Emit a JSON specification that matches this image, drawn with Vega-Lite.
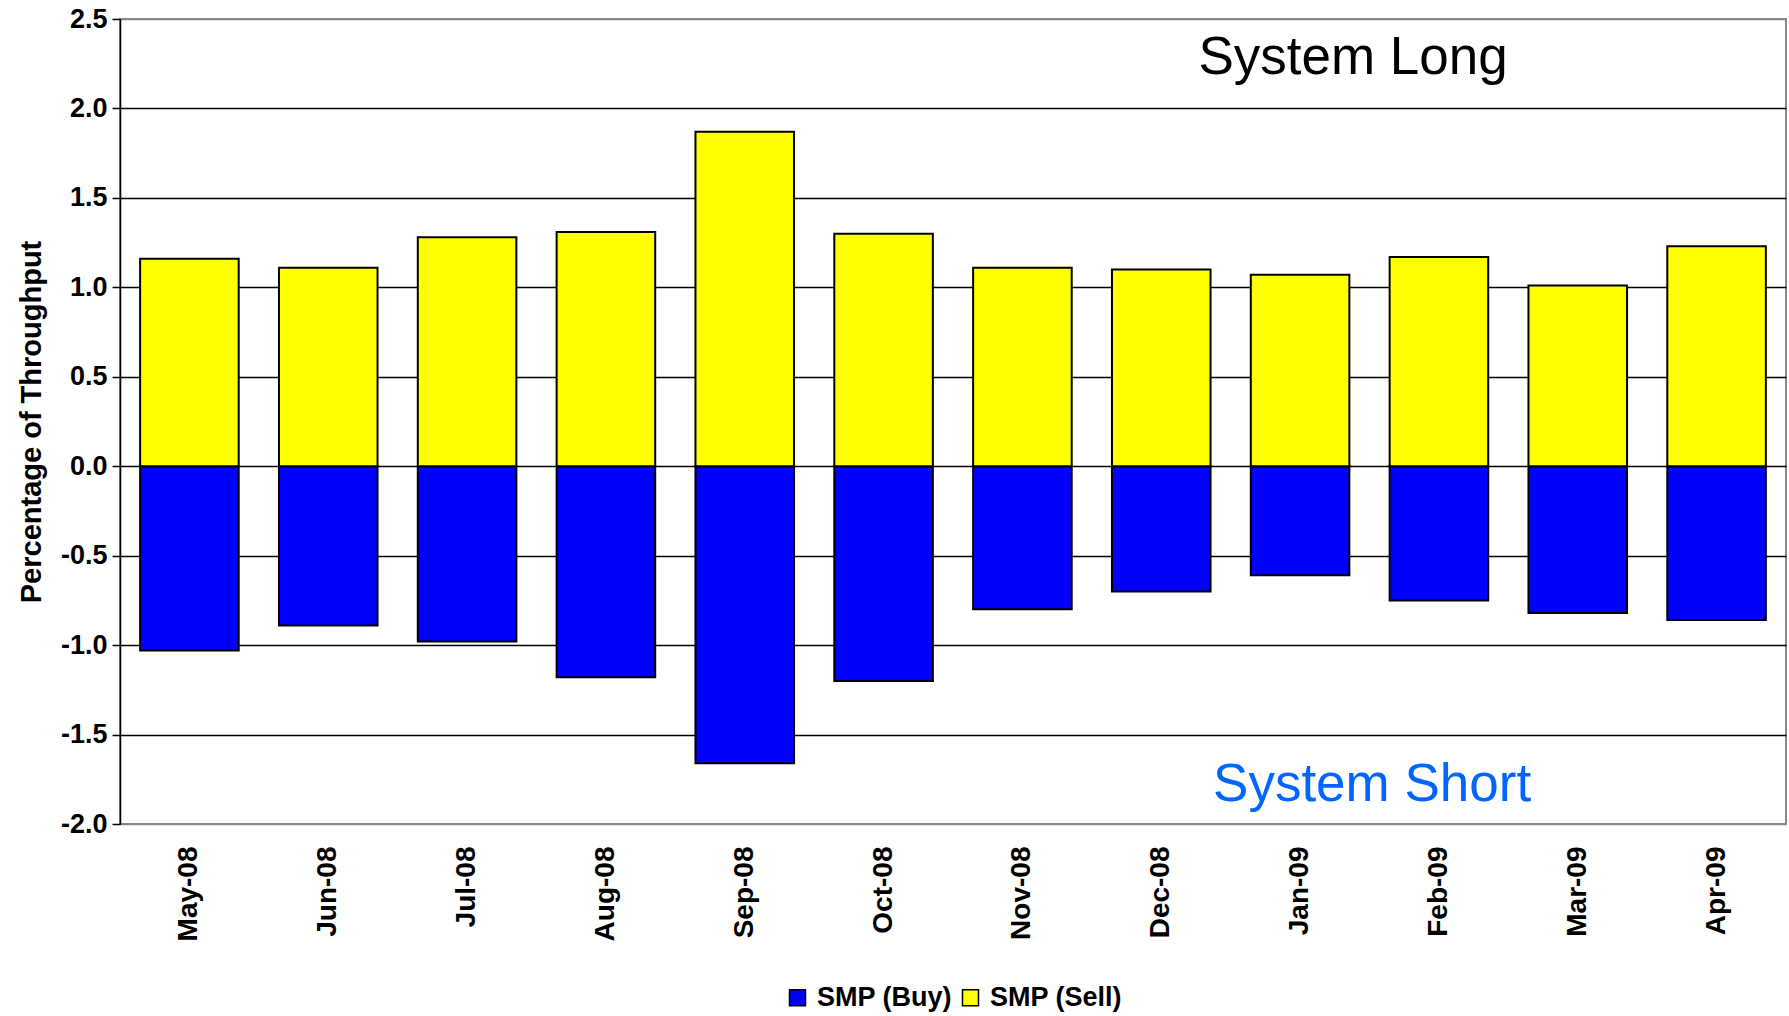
{
  "$schema": "https://vega.github.io/schema/vega-lite/v6.json",
  "width": 1666,
  "height": 805,
  "autosize": {"type": "none"},
  "padding": {"left": 120, "top": 19, "right": 3, "bottom": 192},
  "background": "white",
  "config": {
    "font": "Liberation Sans",
    "view": {"stroke": "#888888", "strokeWidth": 2}
  },
  "datasets": {
    "smp": [
      {"month": "May-08", "series": "SMP (Buy)", "value": -1.03},
      {"month": "May-08", "series": "SMP (Sell)", "value": 1.16},
      {"month": "Jun-08", "series": "SMP (Buy)", "value": -0.89},
      {"month": "Jun-08", "series": "SMP (Sell)", "value": 1.11},
      {"month": "Jul-08", "series": "SMP (Buy)", "value": -0.98},
      {"month": "Jul-08", "series": "SMP (Sell)", "value": 1.28},
      {"month": "Aug-08", "series": "SMP (Buy)", "value": -1.18},
      {"month": "Aug-08", "series": "SMP (Sell)", "value": 1.31},
      {"month": "Sep-08", "series": "SMP (Buy)", "value": -1.66},
      {"month": "Sep-08", "series": "SMP (Sell)", "value": 1.87},
      {"month": "Oct-08", "series": "SMP (Buy)", "value": -1.2},
      {"month": "Oct-08", "series": "SMP (Sell)", "value": 1.3},
      {"month": "Nov-08", "series": "SMP (Buy)", "value": -0.8},
      {"month": "Nov-08", "series": "SMP (Sell)", "value": 1.11},
      {"month": "Dec-08", "series": "SMP (Buy)", "value": -0.7},
      {"month": "Dec-08", "series": "SMP (Sell)", "value": 1.1},
      {"month": "Jan-09", "series": "SMP (Buy)", "value": -0.61},
      {"month": "Jan-09", "series": "SMP (Sell)", "value": 1.07},
      {"month": "Feb-09", "series": "SMP (Buy)", "value": -0.75},
      {"month": "Feb-09", "series": "SMP (Sell)", "value": 1.17},
      {"month": "Mar-09", "series": "SMP (Buy)", "value": -0.82},
      {"month": "Mar-09", "series": "SMP (Sell)", "value": 1.01},
      {"month": "Apr-09", "series": "SMP (Buy)", "value": -0.86},
      {"month": "Apr-09", "series": "SMP (Sell)", "value": 1.23}
    ]
  },
  "encoding": {
    "x": {
      "field": "month",
      "type": "nominal",
      "sort": null,
      "scale": {
        "domain": ["May-08", "Jun-08", "Jul-08", "Aug-08", "Sep-08", "Oct-08", "Nov-08", "Dec-08", "Jan-09", "Feb-09", "Mar-09", "Apr-09"],
        "paddingInner": 0.29,
        "paddingOuter": 0.145
      },
      "axis": {
        "title": null,
        "labelAngle": 270,
        "labelFontSize": 28,
        "labelFontWeight": "bold",
        "labelColor": "black",
        "labelPadding": 22,
        "ticks": false,
        "tickSize": 0,
        "domain": false
      }
    },
    "y": {
      "field": "value",
      "type": "quantitative",
      "stack": null,
      "scale": {"domain": [-2, 2.5], "nice": false, "zero": false},
      "axis": {
        "title": "Percentage of Throughput",
        "titleFontSize": 29,
        "titleFontWeight": "bold",
        "titleColor": "black",
        "titlePadding": 14,
        "values": [-2, -1.5, -1, -0.5, 0, 0.5, 1, 1.5, 2, 2.5],
        "labelExpr": "datum.value < 0 ? '-' + format(-datum.value, '.1f') : format(datum.value, '.1f')",
        "labelFontSize": 27,
        "labelFontWeight": "bold",
        "labelColor": "black",
        "labelPadding": 5,
        "tickColor": "black",
        "tickSize": 8,
        "tickWidth": 1.5,
        "domainColor": "black",
        "domainWidth": 1.5,
        "grid": true,
        "gridColor": {"condition": {"test": "datum.value == 2.5 || datum.value == -2", "value": "#888888"}, "value": "black"},
        "gridWidth": 1.5,
        "gridOpacity": 1
      }
    }
  },
  "layer": [
    {
      "data": {"name": "smp"},
      "mark": {"type": "bar", "stroke": "black", "strokeWidth": 2},
      "encoding": {
        "color": {
          "field": "series",
          "type": "nominal",
          "scale": {"domain": ["SMP (Buy)", "SMP (Sell)"], "range": ["#0000FF", "#FFFF00"]},
          "legend": {
            "title": null,
            "orient": "none",
            "direction": "horizontal",
            "legendX": 664,
            "legendY": 965,
            "padding": 0,
            "symbolType": "square",
            "symbolSize": 256,
            "symbolStrokeColor": "black",
            "symbolStrokeWidth": 1.5,
            "symbolOpacity": 1,
            "labelFontSize": 27,
            "labelFontWeight": "bold",
            "labelColor": "black",
            "labelOffset": 6,
            "columnPadding": 5
          }
        }
      }
    },
    {
      "data": {"values": [{"label": "System Long", "month": "Jan-09", "value": 2.28}]},
      "mark": {"type": "text", "fontSize": 53, "color": "black", "dx": 53, "baseline": "middle", "align": "center"},
      "encoding": {"text": {"field": "label"}}
    },
    {
      "data": {"values": [{"label": "System Short", "month": "Jan-09", "value": -1.78}]},
      "mark": {"type": "text", "fontSize": 53, "color": "#0066FF", "dx": 72, "baseline": "middle", "align": "center"},
      "encoding": {"text": {"field": "label"}}
    }
  ]
}
